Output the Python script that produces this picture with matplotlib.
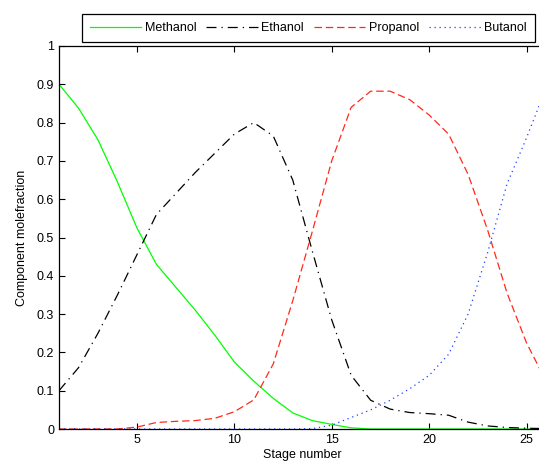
import matplotlib
matplotlib.use("Agg")
import matplotlib.pyplot as plt

plt.rcParams['font.family'] = ['Liberation Sans', 'DejaVu Sans']
plt.rcParams['font.size'] = 9

stages = list(range(1, 27))
methanol = [0.90, 0.838, 0.755, 0.645, 0.525, 0.43, 0.37, 0.31, 0.245, 0.175,
            0.125, 0.08, 0.042, 0.022, 0.012, 0.003, 0.0, 0.0, 0.0, 0.0,
            0.0, 0.0, 0.0, 0.0, 0.0, 0.0]
ethanol = [0.10, 0.16, 0.25, 0.35, 0.455, 0.56, 0.615, 0.67, 0.72, 0.77,
           0.80, 0.765, 0.65, 0.465, 0.285, 0.14, 0.075, 0.052, 0.043, 0.040,
           0.036, 0.018, 0.008, 0.004, 0.002, 0.001]
propanol = [0.0, 0.0, 0.0, 0.0, 0.005, 0.017, 0.02, 0.022, 0.028, 0.045,
            0.076, 0.17, 0.335, 0.515, 0.70, 0.84, 0.882, 0.882, 0.86, 0.82,
            0.77, 0.665, 0.52, 0.355, 0.225, 0.125]
butanol = [0.0, 0.0, 0.0, 0.0, 0.0, 0.0, 0.0, 0.0, 0.0, 0.0,
           0.0, 0.0, 0.0, 0.001, 0.01, 0.03, 0.05, 0.075, 0.105, 0.14,
           0.195, 0.30, 0.46, 0.64, 0.76, 0.89]
labels = ['Methanol', 'Ethanol', 'Propanol', 'Butanol']

fig = plt.figure(figsize=(5.39, 4.68), dpi=100)
ax = fig.add_axes([59/539, 1-429/468, (546-59)/539, (429-46)/468])

ax.plot(stages, methanol, color='#00ff00', linestyle='-', linewidth=0.9, label=labels[0])
ax.plot(stages, ethanol, color='black', linestyle=(0, (8, 4, 1, 4)), linewidth=0.9, label=labels[1])
ax.plot(stages, propanol, color='#ff2a1a', linestyle=(0, (6, 3)), linewidth=0.9, label=labels[2])
ax.plot(stages, butanol, color='#1f3fff', linestyle=(0, (1, 3)), linewidth=0.9, label=labels[3])

ax.set_xlim(1, 26)
ax.set_ylim(0, 1)
ax.set_xticks([5, 10, 15, 20, 25])
ax.set_yticks([i/10 for i in range(11)])
ax.set_yticklabels(['0', '0.1', '0.2', '0.3', '0.4', '0.5', '0.6', '0.7', '0.8', '0.9', '1'])
ax.tick_params(direction='in', top=True, right=True, length=4, width=0.8, labelsize=9)
for s in ax.spines.values():
    s.set_linewidth(0.9)
ax.set_xlabel('Stage number', fontsize=9, labelpad=2)
ax.set_ylabel('Component molefraction', fontsize=9, labelpad=6)

leg = ax.legend(loc='upper right', bbox_to_anchor=(535/539, 1-14/468),
                bbox_transform=fig.transFigure, ncol=4, fancybox=False,
                edgecolor='black', framealpha=1, fontsize=9, handlelength=4.1,
                columnspacing=0.8, handletextpad=0.3, borderpad=0.65, borderaxespad=0)
leg.get_frame().set_linewidth(0.9)

fig.savefig('out.png', dpi=100)
